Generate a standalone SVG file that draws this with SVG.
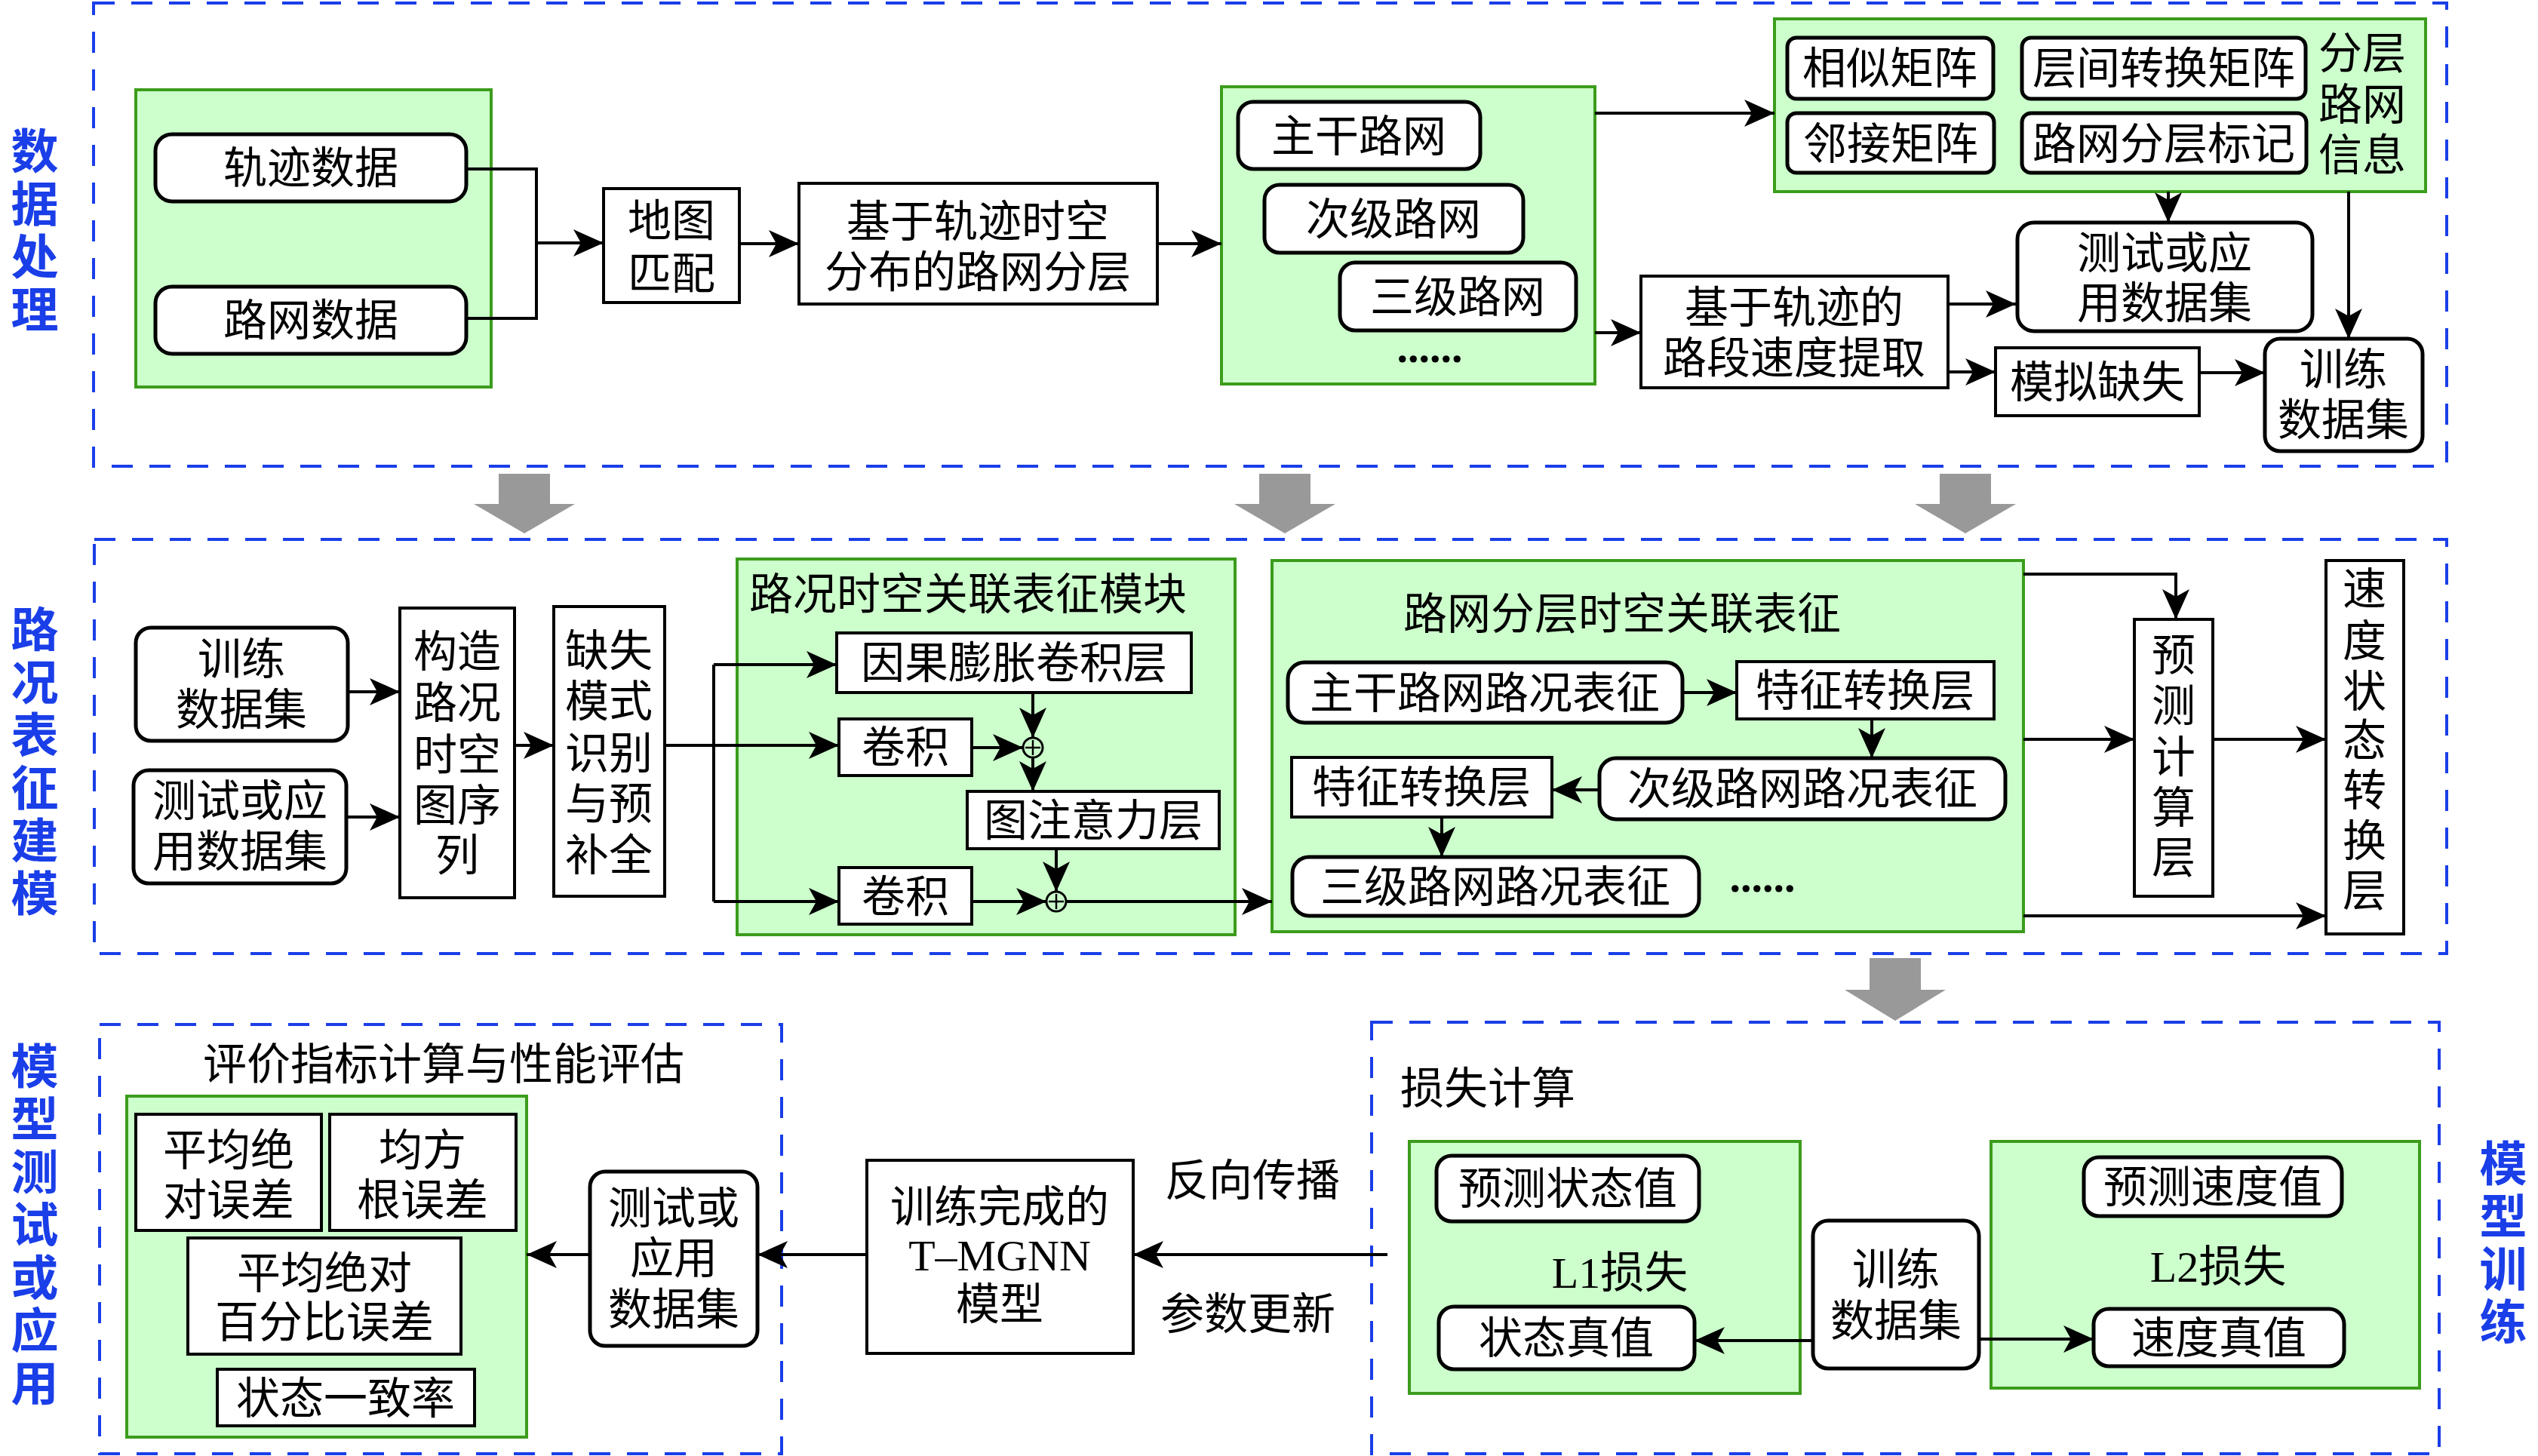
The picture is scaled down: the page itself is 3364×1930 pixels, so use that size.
<svg xmlns="http://www.w3.org/2000/svg" width="3364" height="1930" viewBox="0 0 3364 1930">
<defs>
<style>
.t{font-family:"Liberation Serif","Noto Sans CJK SC",serif;font-size:58px;fill:#000;text-anchor:middle}
.tl{font-family:"Liberation Serif","Noto Sans CJK SC",serif;font-size:58px;fill:#000;text-anchor:start}
.side{font-family:"Noto Sans CJK SC",sans-serif;font-weight:bold;font-size:63px;fill:#1a3ee8;text-anchor:start;writing-mode:vertical-rl;letter-spacing:7px}
.dash{fill:none;stroke:#1a3ee8;stroke-width:4;stroke-dasharray:28 22}
.grn{fill:#ccffcc;stroke:#3c9c1c;stroke-width:4}
.bx{fill:#fff;stroke:#000;stroke-width:4}
.rb{fill:#fff;stroke:#000;stroke-width:5}
.ln{fill:none;stroke:#000;stroke-width:4}
.ar{fill:none;stroke:#000;stroke-width:4;marker-end:url(#ah)}
.gray{fill:#999999}
</style>
<marker id="ah" markerUnits="userSpaceOnUse" markerWidth="40" markerHeight="36" viewBox="0 0 40 36" refX="40" refY="18" orient="auto">
<path d="M0,0 L40,18 L0,36 L10,18 Z" fill="#000"/>
</marker>
</defs>
<rect width="3364" height="1930" fill="#fff"/>

<!-- section frames -->
<g id="frames">
<rect class="dash" x="124" y="4" width="3119" height="614"/>
<rect class="dash" x="125" y="715" width="3118" height="549"/>
<rect class="dash" x="132" y="1358" width="904" height="569"/>
<rect class="dash" x="1818" y="1355" width="1415" height="572"/>
</g>

<!-- side labels -->
<g id="side-labels">
<text class="side" x="46" y="168">数据处理</text>
<text class="side" x="46" y="802">路况表征建模</text>
<text class="side" x="46" y="1381">模型测试或应用</text>
<text class="side" x="3318" y="1510">模型训练</text>
</g>

<!-- gray stage arrows -->
<g id="stage-arrows">
<polygon class="gray" points="661,628 729,628 729,668 762,668 695,707 628,668 661,668"/>
<polygon class="gray" points="1669,628 1737,628 1737,668 1770,668 1703,707 1636,668 1669,668"/>
<polygon class="gray" points="2571,628 2639,628 2639,668 2672,668 2605,707 2538,668 2571,668"/>
<polygon class="gray" points="2478,1270 2546,1270 2546,1312 2579,1312 2512,1353 2445,1312 2478,1312"/>
</g>

<!-- ===== Section 1 ===== -->
<g id="n-raw-data">
<rect class="grn" x="180" y="119" width="471" height="394"/>
<rect class="rb" x="206" y="178" width="412" height="89" rx="22"/>
<text class="t" x="412" y="243">轨迹数据</text>
<rect class="rb" x="206" y="380" width="412" height="89" rx="22"/>
<text class="t" x="412" y="445">路网数据</text>
</g>
<g id="n-map-match">
<rect class="bx" x="800" y="250" width="180" height="151"/>
<text class="t"><tspan x="890" y="313">地图</tspan><tspan x="890" y="383">匹配</tspan></text>
</g>
<g id="n-layering">
<rect class="bx" x="1059" y="243" width="475" height="160"/>
<text class="t"><tspan x="1296" y="314">基于轨迹时空</tspan><tspan x="1296" y="381">分布的路网分层</tspan></text>
</g>
<g id="n-road-levels">
<rect class="grn" x="1619" y="115" width="495" height="394"/>
<rect class="rb" x="1641" y="135" width="321" height="89" rx="20"/>
<text class="t" x="1801" y="201">主干路网</text>
<rect class="rb" x="1676" y="245" width="343" height="90" rx="20"/>
<text class="t" x="1847" y="311">次级路网</text>
<rect class="rb" x="1776" y="348" width="313" height="90" rx="20"/>
<text class="t" x="1932" y="414">三级路网</text>
<text class="t" x="1895" y="480" style="font-weight:bold">......</text>
</g>
<g id="n-layer-info">
<rect class="grn" x="2352" y="25" width="863" height="229"/>
<rect class="rb" x="2369" y="50" width="273" height="81" rx="12"/>
<text class="t" x="2505" y="111">相似矩阵</text>
<rect class="rb" x="2680" y="50" width="376" height="81" rx="12"/>
<text class="t" x="2868" y="111">层间转换矩阵</text>
<rect class="rb" x="2369" y="150" width="274" height="79" rx="12"/>
<text class="t" x="2506" y="211">邻接矩阵</text>
<rect class="rb" x="2680" y="150" width="377" height="79" rx="12"/>
<text class="t" x="2868" y="211">路网分层标记</text>
<text class="t"><tspan x="3131" y="91">分层</tspan><tspan x="3131" y="159">路网</tspan><tspan x="3131" y="226">信息</tspan></text>
</g>
<g id="n-test-set-1">
<rect class="rb" x="2674" y="295" width="391" height="144" rx="22"/>
<text class="t"><tspan x="2869" y="356">测试或应</tspan><tspan x="2869" y="422">用数据集</tspan></text>
</g>
<g id="n-speed-extract">
<rect class="bx" x="2175" y="366" width="407" height="148"/>
<text class="t"><tspan x="2378" y="428">基于轨迹的</tspan><tspan x="2378" y="495">路段速度提取</tspan></text>
</g>
<g id="n-sim-missing">
<rect class="bx" x="2645" y="461" width="270" height="90"/>
<text class="t" x="2780" y="527">模拟缺失</text>
</g>
<g id="n-train-set-1">
<rect class="rb" x="3002" y="449" width="209" height="149" rx="20"/>
<text class="t"><tspan x="3106" y="510">训练</tspan><tspan x="3106" y="577">数据集</tspan></text>
</g>

<!-- ===== Section 2 ===== -->
<g id="n-train-set-2">
<rect class="rb" x="180" y="832" width="281" height="150" rx="20"/>
<text class="t"><tspan x="320" y="894">训练</tspan><tspan x="320" y="961">数据集</tspan></text>
</g>
<g id="n-test-set-2">
<rect class="rb" x="177" y="1021" width="282" height="150" rx="20"/>
<text class="t"><tspan x="318" y="1082">测试或应</tspan><tspan x="318" y="1149">用数据集</tspan></text>
</g>
<g id="n-graph-seq">
<rect class="bx" x="530" y="806" width="152" height="384"/>
<text class="t"><tspan x="606" y="884">构造</tspan><tspan x="606" y="952">路况</tspan><tspan x="606" y="1021">时空</tspan><tspan x="606" y="1088">图序</tspan><tspan x="606" y="1154">列</tspan></text>
</g>
<g id="n-missing-pattern">
<rect class="bx" x="734" y="804" width="147" height="384"/>
<text class="t"><tspan x="807" y="883">缺失</tspan><tspan x="807" y="950">模式</tspan><tspan x="807" y="1019">识别</tspan><tspan x="807" y="1086">与预</tspan><tspan x="807" y="1154">补全</tspan></text>
</g>
<g id="n-st-module">
<rect class="grn" x="977" y="741" width="660" height="498"/>
<text class="tl" x="993" y="808">路况时空关联表征模块</text>
<rect class="bx" x="1109" y="839" width="470" height="79"/>
<text class="t" x="1344" y="899">因果膨胀卷积层</text>
<rect class="bx" x="1112" y="953" width="176" height="75"/>
<text class="t" x="1200" y="1011">卷积</text>
<circle cx="1369" cy="991" r="13" fill="none" stroke="#000" stroke-width="3"/>
<path d="M1359,991 H1379 M1369,981 V1001" stroke="#000" stroke-width="2.5"/>
<rect class="bx" x="1282" y="1049" width="334" height="76"/>
<text class="t" x="1449" y="1108">图注意力层</text>
<rect class="bx" x="1112" y="1150" width="176" height="75"/>
<text class="t" x="1200" y="1209">卷积</text>
<circle cx="1400" cy="1195" r="13" fill="none" stroke="#000" stroke-width="3"/>
<path d="M1390,1195 H1410 M1400,1185 V1205" stroke="#000" stroke-width="2.5"/>
</g>
<g id="n-hier-module">
<rect class="grn" x="1686" y="743" width="996" height="492"/>
<text class="t" x="2150" y="834">路网分层时空关联表征</text>
<rect class="rb" x="1707" y="878" width="523" height="80" rx="22"/>
<text class="t" x="1968" y="939">主干路网路况表征</text>
<rect class="bx" x="2302" y="877" width="341" height="76"/>
<text class="t" x="2472" y="936">特征转换层</text>
<rect class="rb" x="2120" y="1005" width="538" height="81" rx="22"/>
<text class="t" x="2389" y="1066">次级路网路况表征</text>
<rect class="bx" x="1712" y="1004" width="345" height="79"/>
<text class="t" x="1884" y="1064">特征转换层</text>
<rect class="rb" x="1713" y="1136" width="539" height="78" rx="22"/>
<text class="t" x="1982" y="1196">三级路网路况表征</text>
<text class="t" x="2336" y="1182" style="font-weight:bold">......</text>
</g>
<g id="n-predict">
<rect class="bx" x="2829" y="821" width="104" height="367"/>
<text class="t"><tspan x="2881" y="889">预</tspan><tspan x="2881" y="956">测</tspan><tspan x="2881" y="1024">计</tspan><tspan x="2881" y="1091">算</tspan><tspan x="2881" y="1157">层</tspan></text>
</g>
<g id="n-state-convert">
<rect class="bx" x="3083" y="743" width="103" height="495"/>
<text class="t"><tspan x="3134" y="801">速</tspan><tspan x="3134" y="870">度</tspan><tspan x="3134" y="937">状</tspan><tspan x="3134" y="1002">态</tspan><tspan x="3134" y="1068">转</tspan><tspan x="3134" y="1135">换</tspan><tspan x="3134" y="1201">层</tspan></text>
</g>

<!-- ===== Section 3 ===== -->
<g id="n-eval">
<text class="t" x="588" y="1431">评价指标计算与性能评估</text>
<rect class="grn" x="168" y="1453" width="530" height="452"/>
<rect class="bx" x="180" y="1477" width="246" height="154"/>
<text class="t"><tspan x="303" y="1545">平均绝</tspan><tspan x="303" y="1611">对误差</tspan></text>
<rect class="bx" x="437" y="1477" width="247" height="154"/>
<text class="t"><tspan x="560" y="1545">均方</tspan><tspan x="560" y="1611">根误差</tspan></text>
<rect class="bx" x="249" y="1641" width="362" height="154"/>
<text class="t"><tspan x="430" y="1708">平均绝对</tspan><tspan x="430" y="1773">百分比误差</tspan></text>
<rect class="bx" x="288" y="1815" width="341" height="75"/>
<text class="t" x="458" y="1874">状态一致率</text>
</g>
<g id="n-test-set-3">
<rect class="rb" x="782" y="1553" width="222" height="231" rx="20"/>
<text class="t"><tspan x="893" y="1622">测试或</tspan><tspan x="893" y="1688">应用</tspan><tspan x="893" y="1756">数据集</tspan></text>
</g>
<g id="n-model">
<rect class="bx" x="1149" y="1538" width="353" height="256"/>
<text class="t"><tspan x="1325" y="1620">训练完成的</tspan><tspan x="1325" y="1684">T–MGNN</tspan><tspan x="1325" y="1749">模型</tspan></text>
</g>
<g id="n-loss">
<text class="tl" x="1856" y="1463">损失计算</text>
<rect class="grn" x="1868" y="1513" width="518" height="334"/>
<rect class="rb" x="1904" y="1532" width="348" height="87" rx="20"/>
<text class="t" x="2078" y="1596">预测状态值</text>
<text class="t" x="2147" y="1707">L1损失</text>
<rect class="rb" x="1907" y="1732" width="339" height="83" rx="20"/>
<text class="t" x="2076" y="1794">状态真值</text>
<rect class="grn" x="2639" y="1513" width="568" height="327"/>
<rect class="rb" x="2762" y="1534" width="342" height="78" rx="20"/>
<text class="t" x="2933" y="1594">预测速度值</text>
<text class="t" x="2940" y="1699">L2损失</text>
<rect class="rb" x="2775" y="1735" width="332" height="76" rx="20"/>
<text class="t" x="2941" y="1794">速度真值</text>
</g>
<g id="n-train-set-3">
<rect class="rb" x="2403" y="1618" width="220" height="196" rx="20"/>
<text class="t"><tspan x="2513" y="1703">训练</tspan><tspan x="2513" y="1771">数据集</tspan></text>
</g>
<g id="edge-labels">
<text class="t" x="1660" y="1585">反向传播</text>
<text class="t" x="1654" y="1762">参数更新</text>
</g>

<!-- ===== connectors ===== -->
<g id="connectors">
<polyline class="ln" points="618,224 711,224 711,422 618,422"/>
<line class="ar" x1="711" y1="322" x2="800" y2="322"/>
<line class="ar" x1="980" y1="323" x2="1059" y2="323"/>
<line class="ar" x1="1534" y1="323" x2="1619" y2="323"/>
<line class="ar" x1="2114" y1="150" x2="2352" y2="150"/>
<line class="ar" x1="2114" y1="441" x2="2175" y2="441"/>
<line class="ar" x1="2874" y1="254" x2="2874" y2="295"/>
<line class="ar" x1="3113" y1="254" x2="3113" y2="449"/>
<line class="ar" x1="2582" y1="403" x2="2672" y2="403"/>
<line class="ar" x1="2582" y1="493" x2="2645" y2="493"/>
<line class="ar" x1="2915" y1="494" x2="3002" y2="494"/>

<line class="ar" x1="461" y1="917" x2="530" y2="917"/>
<line class="ar" x1="459" y1="1083" x2="530" y2="1083"/>
<line class="ar" x1="682" y1="988" x2="734" y2="988"/>
<line class="ar" x1="881" y1="988" x2="1112" y2="988"/>
<line class="ln" x1="946" y1="881" x2="946" y2="1195"/>
<line class="ar" x1="946" y1="881" x2="1109" y2="881"/>
<line class="ar" x1="946" y1="1195" x2="1112" y2="1195"/>
<line class="ar" x1="1288" y1="991" x2="1356" y2="991"/>
<line class="ar" x1="1369" y1="918" x2="1369" y2="978"/>
<line class="ar" x1="1369" y1="1004" x2="1369" y2="1049"/>
<line class="ar" x1="1288" y1="1195" x2="1387" y2="1195"/>
<line class="ar" x1="1400" y1="1125" x2="1400" y2="1182"/>
<line class="ar" x1="1413" y1="1195" x2="1686" y2="1195"/>
<line class="ar" x1="2230" y1="918" x2="2302" y2="918"/>
<line class="ar" x1="2481" y1="953" x2="2481" y2="1005"/>
<line class="ar" x1="2120" y1="1047" x2="2057" y2="1047"/>
<line class="ar" x1="1911" y1="1083" x2="1911" y2="1136"/>
<polyline class="ar" points="2682,761 2884,761 2884,821"/>
<line class="ar" x1="2682" y1="980" x2="2829" y2="980"/>
<line class="ar" x1="2933" y1="980" x2="3083" y2="980"/>
<line class="ar" x1="2682" y1="1214" x2="3083" y2="1214"/>

<line class="ar" x1="782" y1="1663" x2="698" y2="1663"/>
<line class="ar" x1="1149" y1="1663" x2="1004" y2="1663"/>
<line class="ar" x1="1839" y1="1663" x2="1502" y2="1663"/>
<line class="ar" x1="2403" y1="1777" x2="2246" y2="1777"/>
<line class="ar" x1="2623" y1="1775" x2="2775" y2="1775"/>
</g>
</svg>
